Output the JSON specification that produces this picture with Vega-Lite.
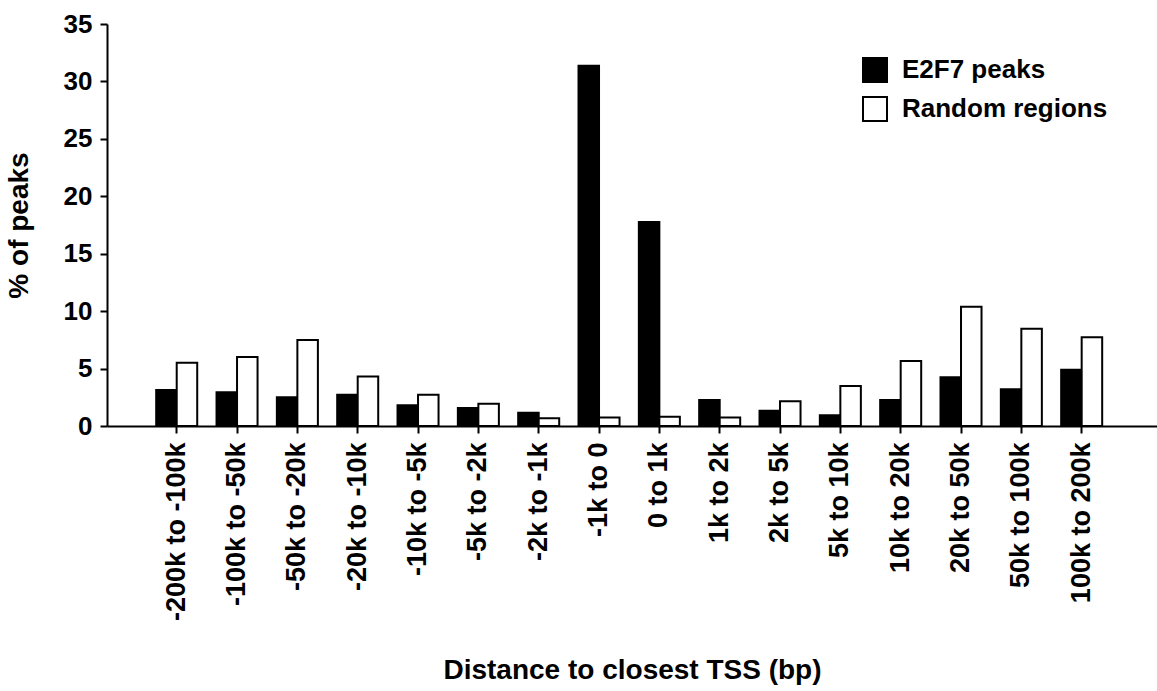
{
  "$schema": "https://vega.github.io/schema/vega-lite/v6.json",
  "width": 1050,
  "height": 402,
  "autosize": {"type": "none"},
  "padding": {"left": 107, "top": 24, "right": 0, "bottom": 265},
  "background": "white",
  "data": {
    "values": [
      {"range": "-200k to -100k", "series": "E2F7 peaks", "pct": 3.13},
      {"range": "-200k to -100k", "series": "Random regions", "pct": 5.51},
      {"range": "-100k to -50k", "series": "E2F7 peaks", "pct": 2.93},
      {"range": "-100k to -50k", "series": "Random regions", "pct": 6.0},
      {"range": "-50k to -20k", "series": "E2F7 peaks", "pct": 2.5},
      {"range": "-50k to -20k", "series": "Random regions", "pct": 7.49},
      {"range": "-20k to -10k", "series": "E2F7 peaks", "pct": 2.73},
      {"range": "-20k to -10k", "series": "Random regions", "pct": 4.32},
      {"range": "-10k to -5k", "series": "E2F7 peaks", "pct": 1.8},
      {"range": "-10k to -5k", "series": "Random regions", "pct": 2.73},
      {"range": "-5k to -2k", "series": "E2F7 peaks", "pct": 1.57},
      {"range": "-5k to -2k", "series": "Random regions", "pct": 1.94},
      {"range": "-2k to -1k", "series": "E2F7 peaks", "pct": 1.16},
      {"range": "-2k to -1k", "series": "Random regions", "pct": 0.67},
      {"range": "-1k to 0", "series": "E2F7 peaks", "pct": 31.37},
      {"range": "-1k to 0", "series": "Random regions", "pct": 0.73},
      {"range": "0 to 1k", "series": "E2F7 peaks", "pct": 17.76},
      {"range": "0 to 1k", "series": "Random regions", "pct": 0.81},
      {"range": "1k to 2k", "series": "E2F7 peaks", "pct": 2.26},
      {"range": "1k to 2k", "series": "Random regions", "pct": 0.73},
      {"range": "2k to 5k", "series": "E2F7 peaks", "pct": 1.33},
      {"range": "2k to 5k", "series": "Random regions", "pct": 2.15},
      {"range": "5k to 10k", "series": "E2F7 peaks", "pct": 0.93},
      {"range": "5k to 10k", "series": "Random regions", "pct": 3.48},
      {"range": "10k to 20k", "series": "E2F7 peaks", "pct": 2.26},
      {"range": "10k to 20k", "series": "Random regions", "pct": 5.66},
      {"range": "20k to 50k", "series": "E2F7 peaks", "pct": 4.24},
      {"range": "20k to 50k", "series": "Random regions", "pct": 10.39},
      {"range": "50k to 100k", "series": "E2F7 peaks", "pct": 3.19},
      {"range": "50k to 100k", "series": "Random regions", "pct": 8.47},
      {"range": "100k to 200k", "series": "E2F7 peaks", "pct": 4.9},
      {"range": "100k to 200k", "series": "Random regions", "pct": 7.72}
    ]
  },
  "mark": {"type": "bar", "stroke": "black", "strokeWidth": 2},
  "encoding": {
    "x": {
      "field": "range",
      "type": "nominal",
      "sort": ["-200k to -100k", "-100k to -50k", "-50k to -20k", "-20k to -10k", "-10k to -5k", "-5k to -2k", "-2k to -1k", "-1k to 0", "0 to 1k", "1k to 2k", "2k to 5k", "5k to 10k", "10k to 20k", "20k to 50k", "50k to 100k", "100k to 200k"],
      "scale": {"paddingInner": 0.32, "paddingOuter": 0.862, "align": 0.473},
      "title": "Distance to closest TSS (bp)",
      "axis": {
        "labelAngle": -90,
        "labelAlign": "right",
        "labelBaseline": "middle",
        "labelPadding": 9,
        "labelFontSize": 27,
        "titlePadding": 36
      }
    },
    "xOffset": {"field": "series", "type": "nominal", "sort": ["E2F7 peaks", "Random regions"]},
    "y": {
      "field": "pct",
      "type": "quantitative",
      "scale": {"domain": [0, 35], "nice": false},
      "title": "% of peaks",
      "axis": {"values": [0, 5, 10, 15, 20, 25, 30, 35], "grid": false, "labelPadding": 8, "titlePadding": 30}
    },
    "color": {
      "field": "series",
      "type": "nominal",
      "scale": {"domain": ["E2F7 peaks", "Random regions"], "range": ["black", "white"]},
      "legend": {
        "orient": "none",
        "legendX": 755,
        "legendY": 33,
        "title": null,
        "padding": 0,
        "symbolType": "square",
        "symbolSize": 576,
        "symbolStrokeColor": "black",
        "symbolStrokeWidth": 2,
        "labelFont": "Liberation Sans",
        "labelFontWeight": "bold",
        "labelFontSize": 26,
        "labelColor": "black",
        "labelOffset": 14,
        "labelLimit": 400,
        "rowPadding": 7
      }
    }
  },
  "config": {
    "view": {"stroke": null},
    "axis": {
      "labelFont": "Liberation Sans",
      "labelFontWeight": "bold",
      "labelFontSize": 26,
      "labelColor": "black",
      "titleFont": "Liberation Sans",
      "titleFontWeight": "bold",
      "titleFontSize": 28,
      "titleColor": "black",
      "domainColor": "black",
      "domainWidth": 2,
      "tickColor": "black",
      "tickWidth": 2,
      "tickSize": 7
    }
  }
}
